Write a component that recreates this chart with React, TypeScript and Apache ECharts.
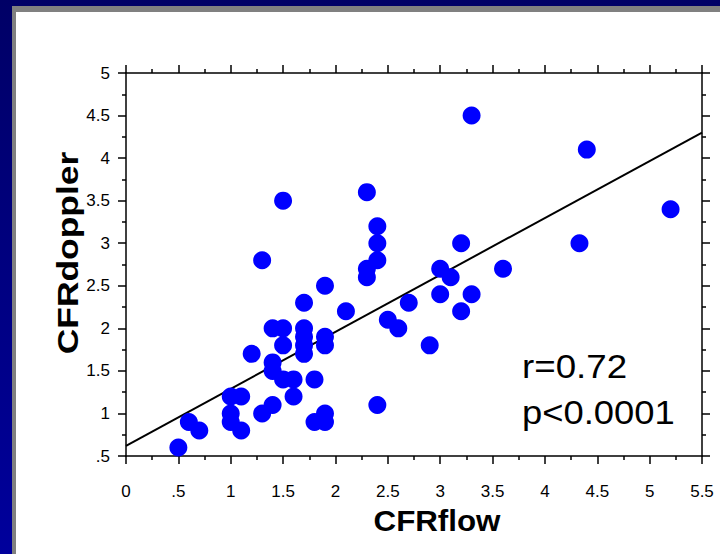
import React, { useEffect, useRef } from "react";
import * as echarts from "echarts";

const flowValues = [0.5, 0.6, 0.7, 1.0, 1.0, 1.0, 1.1, 1.1, 1.2, 1.3, 1.3, 1.4, 1.4, 1.4, 1.4, 1.5, 1.5, 1.5, 1.5, 1.6, 1.6, 1.7, 1.7, 1.7, 1.7, 1.7, 1.8, 1.8, 1.9, 1.9, 1.9, 1.9, 1.9, 2.1, 2.3, 2.3, 2.3, 2.4, 2.4, 2.4, 2.4, 2.5, 2.6, 2.7, 2.9, 3.0, 3.0, 3.1, 3.2, 3.2, 3.3, 3.3, 3.6, 4.33, 4.4, 5.2];
const dopplerValues = [0.6, 0.9, 0.8, 1.2, 1.0, 0.9, 1.2, 0.8, 1.7, 2.8, 1.0, 1.1, 2.0, 1.6, 1.5, 3.5, 2.0, 1.8, 1.4, 1.2, 1.4, 2.3, 2.0, 1.9, 1.8, 1.7, 1.4, 0.9, 2.5, 1.9, 1.8, 1.0, 0.9, 2.2, 3.6, 2.7, 2.6, 3.2, 3.0, 2.8, 1.1, 2.1, 2.0, 2.3, 1.8, 2.7, 2.4, 2.6, 3.0, 2.2, 2.4, 4.5, 2.7, 3.0, 4.1, 3.4];
const fitX = [0, 5.5];
const fitY = [0.62, 4.3];
const statLines = ["r=0.72", "p<0.0001"];
const xTitle = "CFRflow";
const yTitle = "CFRdoppler";

const fmt = (v: number) => {
  if (v === 0) return "0";
  const s = String(Math.round(v * 100) / 100);
  return s.startsWith("0.") ? s.slice(1) : s;
};

export default function App() {
  const ref = useRef<HTMLDivElement>(null);
  useEffect(() => {
    if (!ref.current) return;
    const chart = echarts.init(ref.current, null, { renderer: "svg" });
    const font = "Liberation Sans, Arial, sans-serif";
    const axisCommon = {
      type: "value" as const,
      axisLine: { show: true, onZero: false, lineStyle: { color: "#000", width: 1.5 } },
      axisTick: { show: true, inside: false, length: 8, lineStyle: { color: "#000", width: 1.5 } },
      minorTick: { show: true, splitNumber: 2, length: 4, lineStyle: { color: "#000", width: 1.5 } },
      splitLine: { show: false },
      minorSplitLine: { show: false },
    };
    chart.setOption({
      animation: false,
      grid: { left: 126, right: 18, top: 73, bottom: 98 },
      xAxis: [
        {
          ...axisCommon,
          position: "bottom",
          min: 0,
          max: 5.5,
          interval: 0.5,
          axisLabel: { show: true, color: "#000", fontSize: 17, fontFamily: font, margin: 27, formatter: fmt },
        },
        {
          ...axisCommon,
          position: "top",
          min: 0,
          max: 5.5,
          interval: 0.5,
          axisLabel: { show: false },
        },
      ],
      yAxis: [
        {
          ...axisCommon,
          position: "left",
          min: 0.5,
          max: 5,
          interval: 0.5,
          axisLabel: { show: true, color: "#000", fontSize: 17, fontFamily: font, margin: 16, formatter: fmt },
        },
        {
          ...axisCommon,
          position: "right",
          min: 0.5,
          max: 5,
          interval: 0.5,
          axisLabel: { show: false },
        },
      ],
      series: [
        {
          type: "line",
          data: fitX.map((x, i) => [x, fitY[i]]),
          symbol: "none",
          lineStyle: { color: "#000", width: 2 },
          xAxisIndex: 0,
          yAxisIndex: 0,
          z: 3,
        },
        {
          type: "scatter",
          data: flowValues.map((x, i) => [x, dopplerValues[i]]),
          symbol: "circle",
          symbolSize: 18,
          itemStyle: { color: "#0000FF", opacity: 1 },
          xAxisIndex: 0,
          yAxisIndex: 0,
          z: 4,
        },
      ],
      graphic: [
        {
          type: "text",
          x: 522,
          y: 366,
          scaleX: 1.08,
          style: { text: statLines[0], fontSize: 34, fontFamily: font, fill: "#000", verticalAlign: "middle", align: "left" },
        },
        {
          type: "text",
          x: 522,
          y: 412,
          scaleX: 1.07,
          style: { text: statLines[1], fontSize: 34, fontFamily: font, fill: "#000", verticalAlign: "middle", align: "left" },
        },
        {
          type: "text",
          x: 437,
          y: 521,
          scaleX: 1.08,
          style: { text: xTitle, fontSize: 29, fontWeight: "bold", fontFamily: font, fill: "#000", verticalAlign: "middle", align: "center" },
        },
        {
          type: "text",
          x: 67,
          y: 253,
          rotation: Math.PI / 2,
          scaleX: 1.18,
          style: { text: yTitle, fontSize: 30, fontWeight: "bold", fontFamily: font, fill: "#000", verticalAlign: "middle", align: "center" },
        },
      ],
    });
    return () => chart.dispose();
  }, []);
  return (
    <div style={{ position: "fixed", left: 0, top: 0, width: 720, height: 554, background: "linear-gradient(#000066, #00009c)" }}>
      <div style={{ position: "absolute", left: 12, top: 6, right: 0, bottom: 0, background: "#808080" }} />
      <div style={{ position: "absolute", left: 16, top: 12, right: 0, bottom: 0, background: "#ffffff" }} />
      <div ref={ref} style={{ position: "absolute", left: 0, top: 0, width: 720, height: 554 }} />
    </div>
  );
}
